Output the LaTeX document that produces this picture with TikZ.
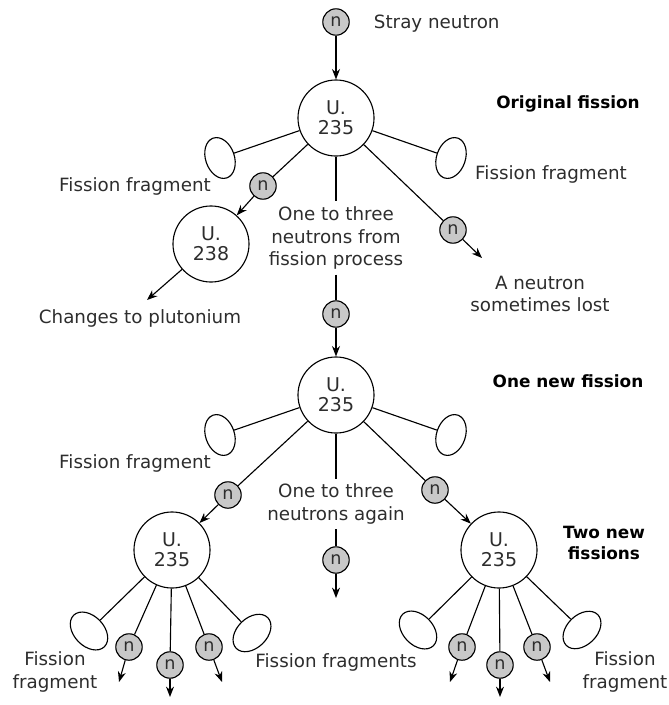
\documentclass[tikz,border=0pt]{standalone}
\usepackage{fontspec}
\setmainfont{DejaVu Sans}
\usepackage{xcolor}
\usepackage{tikz}
\definecolor{neutrongray}{RGB}{200, 200, 200}
\definecolor{inkgray}{RGB}{45, 45, 45}
\usetikzlibrary{shapes.geometric, arrows.meta, positioning}

\begin{document}
\begin{tikzpicture}[
    x=0.025cm, y=-0.025cm,
    atom/.style={circle, draw, line width=0.8pt, minimum size=1.9cm,
                 inner sep=0pt, align=center, text=inkgray,
                 font=\fontsize{13.5}{14}\selectfont},
    neutron/.style={circle, draw, line width=0.8pt, fill=neutrongray,
                    minimum size=0.66cm, inner sep=0pt, text=inkgray,
                    font=\fontsize{12.5}{12.5}\selectfont},
    fragment/.style={ellipse, draw, line width=0.8pt, minimum width=0.72cm,
                     minimum height=1.05cm, inner sep=0pt},
    note/.style={align=center, text=inkgray, font=\fontsize{13}{16.3}\selectfont},
    stage/.style={align=center, font=\fontsize{12}{15}\selectfont\bfseries},
    link/.style={line width=0.8pt},
    shot/.style={line width=0.8pt, -{Stealth[length=2.6mm, width=2mm]}}
]
    \useasboundingbox (0,0) rectangle (669,705);

    % Stray neutron
    \node[neutron] (n0) at (336,22) {n};
    \node[note, anchor=west] (t0) at (369,24) {Stray neutron};

    % Original fission
    \node[atom] (u1) at (336,118) {U.\\235};
    \node[stage] (s1) at (568,104) {Original fission};
    \node[fragment, rotate=19] (f1) at (220,158) {};
    \node[fragment, rotate=-19] (f2) at (451,158) {};
    \node[note] (t1) at (135,186) {Fission fragment};
    \node[note] (t2) at (551,174) {Fission fragment};
    \node[neutron] (n1) at (263,186) {n};
    \node[atom] (u8) at (211,244) {U.\\238};
    \coordinate (e8) at (147,300);
    \node[note] (t3) at (140,318) {Changes to plutonium};
    \node[note] (t4) at (336,238) {One to three\\neutrons from\\fission process};
    \node[neutron] (n2) at (453,230) {n};
    \coordinate (e2) at (482,258);
    \node[note] (t5) at (540,294) {A neutron\\sometimes lost};
    \node[neutron] (n3) at (336,314) {n};

    % One new fission
    \node[atom] (u2) at (336,395) {U.\\235};
    \node[stage] (s2) at (568,381) {One new fission};
    \node[fragment, rotate=19] (f3) at (220,435) {};
    \node[fragment, rotate=-19] (f4) at (451,435) {};
    \node[note] (t6) at (135,463) {Fission fragment};
    \node[neutron] (n4) at (228,495) {n};
    \node[neutron] (n5) at (435,490) {n};
    \node[note] (t7) at (336,504) {One to three\\neutrons again};
    \node[neutron] (n6) at (336,560) {n};
    \coordinate (e6) at (336,598);

    % Two new fissions
    \node[stage] (s3) at (604,543) {Two new\\fissions};
    \node[atom] (u3) at (172,550) {U.\\235};
    \node[atom] (u4) at (499,550) {U.\\235};
    \node[fragment, rotate=44, minimum width=0.75cm, minimum height=1.1cm] (f5) at (89,631) {};
    \node[fragment, rotate=-46, minimum width=0.75cm, minimum height=1.1cm] (f6) at (252,633) {};
    \node[fragment, rotate=44, minimum width=0.75cm, minimum height=1.1cm] (f7) at (418,630) {};
    \node[fragment, rotate=-46, minimum width=0.75cm, minimum height=1.1cm] (f8) at (582,630) {};
    \node[neutron] (n7) at (129,647) {n};
    \node[neutron] (n8) at (170,665) {n};
    \node[neutron] (n9) at (209,647) {n};
    \node[neutron] (n10) at (462,647) {n};
    \node[neutron] (n11) at (500,665) {n};
    \node[neutron] (n12) at (537,647) {n};
    \coordinate (e7) at (119,682);
    \coordinate (e8b) at (170,697);
    \coordinate (e9) at (222,682);
    \coordinate (e10) at (450,682);
    \coordinate (e11) at (500,697);
    \coordinate (e12) at (550,682);
    \node[note] (t8) at (55,672) {Fission\\fragment};
    \node[note] (t9) at (336,662) {Fission fragments};
    \node[note] (t10) at (625,672) {Fission\\fragment};

    % Connectors, first fission
    \draw[shot] (n0) -- (u1);
    \draw[link] (u1) -- (f1);
    \draw[link] (u1) -- (f2);
    \draw[link] (u1) -- (n1);
    \draw[shot] (n1) -- (u8);
    \draw[shot] (u8) -- (e8);
    \draw[link] (u1) -- (t4);
    \draw[link] (t4) -- (n3);
    \draw[shot] (n3) -- (u2);
    \draw[link] (u1) -- (n2);
    \draw[shot] (n2) -- (e2);

    % Connectors, second fission
    \draw[link] (u2) -- (f3);
    \draw[link] (u2) -- (f4);
    \draw[link] (u2) -- (n4);
    \draw[shot] (n4) -- (u3);
    \draw[link] (u2) -- (n5);
    \draw[shot] (n5) -- (u4);
    \draw[link] (u2) -- (t7);
    \draw[link] (t7) -- (n6);
    \draw[shot] (n6) -- (e6);

    % Connectors, last fissions
    \draw[link] (u3) -- (f5);
    \draw[link] (u3) -- (f6);
    \draw[link] (u3) -- (n7);
    \draw[link] (u3) -- (n8);
    \draw[link] (u3) -- (n9);
    \draw[shot] (n7) -- (e7);
    \draw[shot] (n8) -- (e8b);
    \draw[shot] (n9) -- (e9);
    \draw[link] (u4) -- (f7);
    \draw[link] (u4) -- (f8);
    \draw[link] (u4) -- (n10);
    \draw[link] (u4) -- (n11);
    \draw[link] (u4) -- (n12);
    \draw[shot] (n10) -- (e10);
    \draw[shot] (n11) -- (e11);
    \draw[shot] (n12) -- (e12);
\end{tikzpicture}
\end{document}
